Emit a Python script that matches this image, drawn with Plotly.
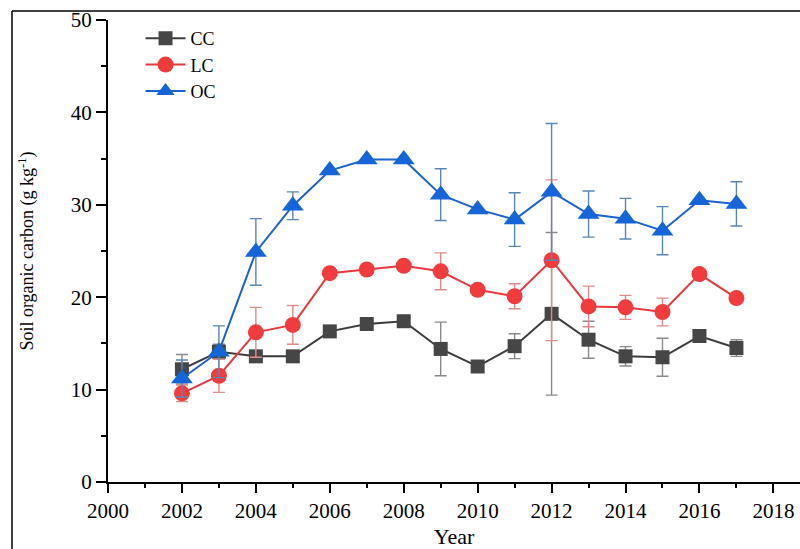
import plotly.graph_objects as go

years = list(range(2002, 2018))

cc = [12.2, 14.1, 13.6, 13.6, 16.3, 17.1, 17.4, 14.4, 12.5, 14.7, 18.2, 15.4, 13.6, 13.5, 15.8, 14.5]
cc_err = [1.6, 0.8, 0.5, 0.4, 0, 0, 0, 2.9, 0, 1.35, 8.8, 2.0, 1.05, 2.05, 0, 0.9]

lc = [9.6, 11.5, 16.2, 17.0, 22.6, 23.0, 23.4, 22.8, 20.8, 20.1, 24.0, 19.0, 18.9, 18.4, 22.5, 19.9]
lc_err = [0.9, 1.8, 2.7, 2.1, 0, 0, 0, 2.0, 0, 1.35, 8.7, 2.2, 1.3, 1.5, 0, 0]

oc = [11.2, 14.1, 24.9, 29.9, 33.7, 34.9, 34.9, 31.1, 29.5, 28.4, 31.4, 29.0, 28.5, 27.2, 30.5, 30.1]
oc_err = [2.0, 2.8, 3.6, 1.5, 0, 0, 0, 2.8, 0, 2.9, 7.4, 2.5, 2.2, 2.6, 0, 2.4]

series = [
    ("CC", cc, cc_err, "#3c3c3c", "#464646", "#8a8a8a", "square", 14),
    ("LC", lc, lc_err, "#e8393c", "#f03c3c", "#e38a8a", "circle", 16),
    ("OC", oc, oc_err, "#1a62d0", "#1565d8", "#5a86b8", "triangle-up", 19),
]

FONT = "Liberation Serif, Times New Roman, serif"

fig = go.Figure()
for name, vals, errs, lcol, mcol, ecol, sym, size in series:
    fig.add_trace(go.Scatter(
        x=years, y=vals, name=name, mode="lines+markers",
        line=dict(color=lcol, width=2),
        marker=dict(symbol=sym, size=size, color=mcol, line=dict(width=0)),
        error_y=dict(type="data", array=errs, visible=True, color=ecol,
                     thickness=1.4, width=6),
    ))

fig.update_layout(
    width=800, height=549,
    margin=dict(l=108, r=0, t=20, b=67, autoexpand=False),
    paper_bgcolor="white", plot_bgcolor="white",
    font=dict(family=FONT, color="black", size=20),
    showlegend=True,
    legend=dict(x=0.047, y=1.0, xanchor="left", yanchor="top",
                bgcolor="rgba(0,0,0,0)", font=dict(size=18, family=FONT),
                itemwidth=40, tracegroupgap=0),
    xaxis=dict(
        range=[2000, 2018.72], tickmode="linear", tick0=2000, dtick=2,
        showgrid=False, zeroline=False, showline=True, linecolor="black",
        linewidth=2, ticks="outside", ticklen=9, tickwidth=2, tickcolor="black",
        minor=dict(ticks="outside", ticklen=4, tickwidth=2, dtick=1, tickcolor="black"),
        tickfont=dict(size=21, family=FONT), automargin=True,
        title=dict(text="Year", font=dict(size=22, family=FONT), standoff=30),
    ),
    yaxis=dict(
        range=[0, 50], tickmode="linear", tick0=0, dtick=10,
        showgrid=False, zeroline=False, showline=True, linecolor="black",
        linewidth=2, ticks="outside", ticklen=10, tickwidth=2, tickcolor="black",
        minor=dict(ticks="outside", ticklen=5, tickwidth=2, dtick=5, tickcolor="black"),
        tickfont=dict(size=21, family=FONT), automargin=False,
        title=dict(text="Soil organic carbon (g kg<sup>-1</sup>)",
                   font=dict(size=18, family=FONT), standoff=32),
    ),
)

# outer frame (top and left edges visible in the cropped figure)
fx = (12 - 108) / 692
fy = 1 + (20 - 11) / 462
fig.add_shape(type="line", xref="paper", yref="paper",
              x0=fx, x1=1.0, y0=fy, y1=fy, line=dict(color="black", width=1.5))
fig.add_shape(type="line", xref="paper", yref="paper",
              x0=fx, x1=fx, y0=fy, y1=-67 / 462, line=dict(color="black", width=1.5))

fig.write_html("out.html")
